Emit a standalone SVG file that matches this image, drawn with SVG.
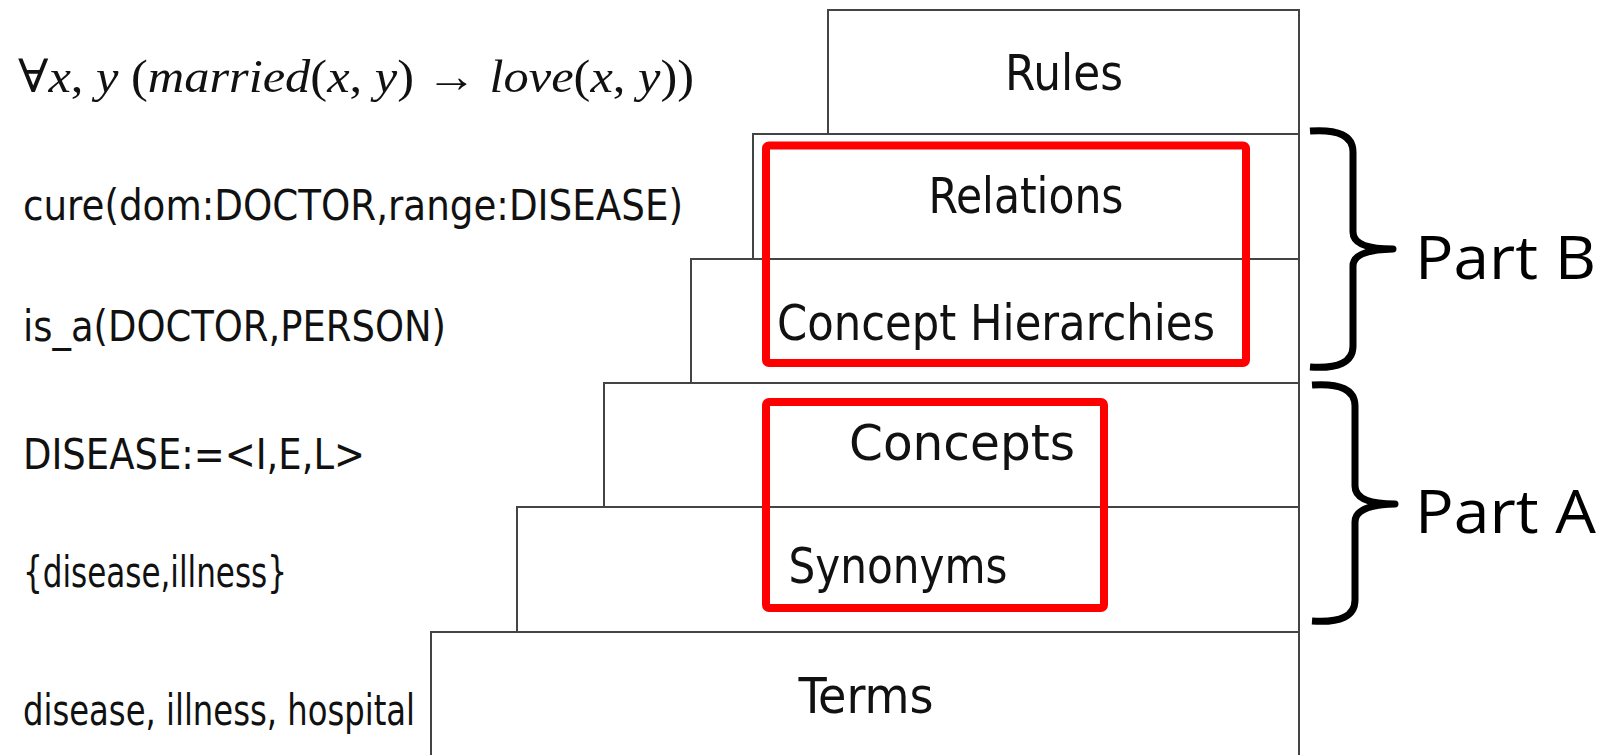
<svg xmlns="http://www.w3.org/2000/svg" width="1610" height="755" viewBox="0 0 1610 755">
  <style>
    .layer { fill: #ffffff; stroke: #444444; stroke-width: 2; }
    .label { font-family: "DejaVu Sans Condensed", "DejaVu Sans", sans-serif; font-size: 50px; fill: #111111; text-anchor: middle; }
    .example { font-family: "DejaVu Sans Condensed", "DejaVu Sans", sans-serif; font-size: 43px; fill: #111111; }
    .math { font-family: "Liberation Serif", "DejaVu Serif", serif; font-size: 46px; fill: #111111; }
    .math .v { font-style: italic; }
    .hl { fill: none; stroke: #ff0000; stroke-width: 8; }
    .brace { fill: none; stroke: #000000; stroke-width: 7; stroke-linejoin: round; }
    .part { font-family: "Open Sans", "Noto Sans", sans-serif; font-size: 60px; fill: #000000; }
  </style>

  <rect width="1610" height="755" fill="#ffffff"/>

  <!-- stacked layers, bottom to top -->
  <g id="terms">
    <rect class="layer" x="431" y="632" width="868" height="140"/>
    <text class="label" x="866" y="713" textLength="135" lengthAdjust="spacingAndGlyphs">Terms</text>
  </g>
  <g id="synonyms">
    <rect class="layer" x="517" y="507" width="782" height="125"/>
    <text class="label" x="898" y="583" textLength="219" lengthAdjust="spacingAndGlyphs">Synonyms</text>
  </g>
  <g id="concepts">
    <rect class="layer" x="604" y="383" width="695" height="124"/>
    <text class="label" x="962" y="460" textLength="226" lengthAdjust="spacingAndGlyphs">Concepts</text>
  </g>
  <g id="concept-hierarchies">
    <rect class="layer" x="691" y="259" width="608" height="124"/>
    <text class="label" x="996" y="340" textLength="438" lengthAdjust="spacingAndGlyphs">Concept Hierarchies</text>
  </g>
  <g id="relations">
    <rect class="layer" x="753" y="134" width="546" height="125"/>
    <text class="label" x="1026" y="213" textLength="195" lengthAdjust="spacingAndGlyphs">Relations</text>
  </g>
  <g id="rules">
    <rect class="layer" x="828" y="10" width="471" height="124"/>
    <text class="label" x="1064" y="90" textLength="118" lengthAdjust="spacingAndGlyphs">Rules</text>
  </g>

  <!-- examples for each layer -->
  <g id="examples">
    <text class="math" x="18" y="92" textLength="676" lengthAdjust="spacingAndGlyphs">∀<tspan class="v">x</tspan>, <tspan class="v">y</tspan> (<tspan class="v">married</tspan>(<tspan class="v">x</tspan>, <tspan class="v">y</tspan>) → <tspan class="v">love</tspan>(<tspan class="v">x</tspan>, <tspan class="v">y</tspan>))</text>
    <text class="example" x="23" y="220" textLength="660" lengthAdjust="spacingAndGlyphs">cure(dom:DOCTOR,range:DISEASE)</text>
    <text class="example" x="23" y="341" textLength="423" lengthAdjust="spacingAndGlyphs">is_a(DOCTOR,PERSON)</text>
    <text class="example" x="23" y="469" font-size="40" textLength="342" lengthAdjust="spacingAndGlyphs">DISEASE:=&lt;I,E,L&gt;</text>
    <text class="example" x="23" y="587" font-size="31" textLength="264" lengthAdjust="spacingAndGlyphs">{disease,illness}</text>
    <text class="example" x="23" y="725" font-size="37" textLength="392" lengthAdjust="spacingAndGlyphs">disease, illness, hospital</text>
  </g>

  <!-- highlight frames -->
  <g id="highlights">
    <rect class="hl" x="766" y="145.5" width="480" height="217.5" rx="3"/>
    <rect class="hl" x="766" y="402" width="338" height="206" rx="3"/>
  </g>

  <!-- grouping braces -->
  <g id="connectors">
    <path class="brace" d="M1310,131 Q1353,128 1353,152 V232 Q1353,249 1393,249 Q1353,250 1353,266 V346 Q1353,370 1310,367"/>
    <path class="brace" d="M1312,385 Q1355,382 1355,406 V486 Q1355,504 1395,504 Q1355,505 1355,522 V600 Q1355,624 1312,621"/>
  </g>

  <g id="part-b">
    <text class="part" x="1415" y="279" textLength="181" lengthAdjust="spacingAndGlyphs">Part B</text>
  </g>
  <g id="part-a">
    <text class="part" x="1415" y="533" textLength="181" lengthAdjust="spacingAndGlyphs">Part A</text>
  </g>
</svg>
